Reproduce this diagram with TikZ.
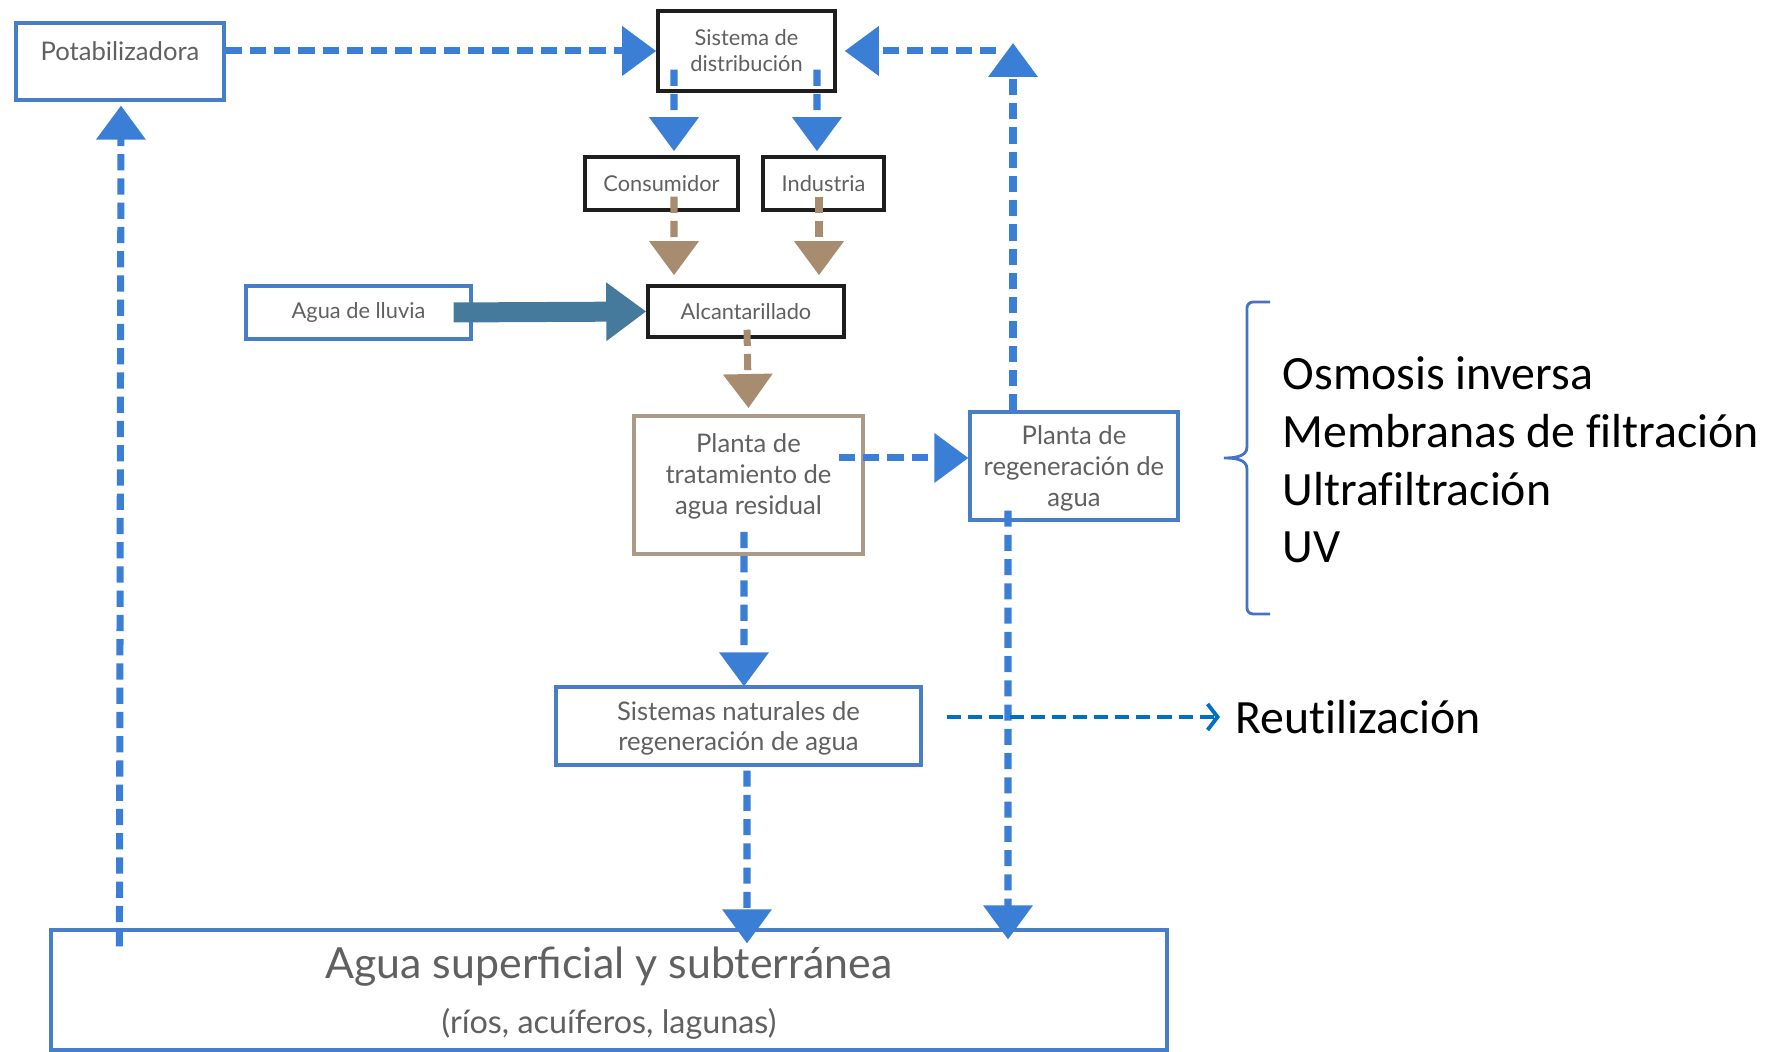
\documentclass[tikz,border=0pt]{standalone}
\usepackage{fontspec}
\setmainfont{Lato}
\newfontfamily\califont[Ligatures=NoCommon]{Carlito}
\usetikzlibrary{arrows.meta}
\definecolor{flowblue}{RGB}{58,126,214}
\definecolor{flowbrown}{RGB}{168,140,112}
\definecolor{rainblue}{RGB}{70,122,156}
\definecolor{reuseblue}{RGB}{0,112,192}
\definecolor{boxblue}{RGB}{72,125,200}
\definecolor{boxbrown}{RGB}{172,154,137}
\definecolor{boxblack}{RGB}{30,30,30}
\definecolor{textgrey}{RGB}{96,96,96}
\definecolor{bracecol}{RGB}{68,114,196}

\begin{document}
\begin{tikzpicture}[box/.style={rectangle,draw,inner sep=0pt,align=center,text=textgrey,font=\fontsize{6.2}{7.4}\selectfont},
    black_box/.style={box,draw=boxblack,line width=1pt},
    blue_box/.style={box,draw=boxblue,line width=0.9pt},
    brown_box/.style={box,draw=boxbrown,line width=1.1pt},
    big_text/.style={font=\fontsize{7.3}{8.7}\selectfont},
    blue_flow/.style={draw=flowblue,line width=2pt,dash pattern=on 4.6pt off 2.3pt,-{Triangle[length=0.34cm,width=0.48cm]}},
    brown_flow/.style={blue_flow,draw=flowbrown},
    rain_flow/.style={draw=rainblue,line width=0.2cm,-{Triangle[length=0.4cm,width=0.56cm]}},
    reuse_flow/.style={draw=reuseblue,line width=1.1pt,dash pattern=on 4pt off 2pt,-{Straight Barb[length=0.1cm,width=0.26cm]},shorten >=0.15cm},
    side_text/.style={inner sep=0pt,anchor=west,align=left,font=\califont\fontsize{13.6}{16.4}\selectfont}]

    \useasboundingbox (0,0) rectangle (17.74,-10.52);

    \node[blue_box,big_text,minimum width=2.08cm,minimum height=0.77cm,text depth=0.2cm] (pot) at (1.20,-0.615) {Potabilizadora};
    \node[black_box,minimum width=1.77cm,minimum height=0.80cm] (sis) at (7.465,-0.51) {Sistema de\\distribución};
    \node[black_box,minimum width=1.53cm,minimum height=0.53cm] (con) at (6.615,-1.835) {Consumidor};
    \node[black_box,minimum width=1.21cm,minimum height=0.53cm] (ind) at (8.235,-1.835) {Industria};
    \node[black_box,minimum width=1.96cm,minimum height=0.51cm] (alc) at (7.46,-3.115) {Alcantarillado};
    \node[blue_box,minimum width=2.25cm,minimum height=0.53cm] (llu) at (3.585,-3.125) {Agua de lluvia};
    \node[brown_box,big_text,minimum width=2.29cm,minimum height=1.38cm,text depth=0.22cm] (ptar) at (7.485,-4.85) {Planta de\\tratamiento de\\agua residual};
    \node[blue_box,big_text,minimum width=2.08cm,minimum height=1.08cm,text depth=0pt] (preg) at (10.74,-4.66) {Planta de\\regeneración de\\agua};
    \node[blue_box,big_text,minimum width=3.65cm,minimum height=0.78cm,text depth=-0.068cm] (snat) at (7.385,-7.26) {Sistemas naturales de\\regeneración de agua};
    \node[blue_box,minimum width=11.16cm,minimum height=1.20cm,text depth=-0.03cm,font=\fontsize{12.2}{15.5}\selectfont] (sup) at (6.09,-9.90) {Agua superficial y subterránea\\{\fontsize{9.2}{15.5}\selectfont (ríos, acuíferos, lagunas)}};

    \node[side_text] (tec) at (12.82,-4.60) {Osmosis inversa\\Membranas de filtración\\Ultrafiltración\\UV};
    \node[side_text] (reu) at (12.35,-7.17) {Reutilización};

    \coordinate (upr) at (10.13,-0.43);
    \coordinate (ret) at (9.96,-0.51);

    \draw[blue_flow] (pot.east |- sis.west) -- (sis.west);
    \draw[blue_flow] (ret) -- ([xshift=0.08cm]sis.east);
    \draw[blue_flow] ([xshift=-0.61cm]preg.north) -- (upr);
    \draw[blue_flow] ([xshift=-0.725cm,yshift=0.23cm]sis.south) -- ([xshift=0.125cm,yshift=0.04cm]con.north);
    \draw[blue_flow] ([xshift=0.705cm,yshift=0.23cm]sis.south) -- ([xshift=-0.065cm,yshift=0.04cm]ind.north);
    \draw[brown_flow] ([xshift=0.125cm,yshift=0.15cm]con.south) -- ([xshift=-0.72cm,yshift=0.09cm]alc.north);
    \draw[brown_flow] ([xshift=-0.045cm,yshift=0.15cm]ind.south) -- ([xshift=0.73cm,yshift=0.09cm]alc.north);
    \draw[rain_flow] ([xshift=-0.19cm]llu.east) -- (alc.west);
    \draw[brown_flow] ([xshift=0.01cm,yshift=0.09cm]alc.south) -- ([yshift=0.06cm]ptar.north);
    \draw[blue_flow] ([xshift=-0.26cm,yshift=0.27cm]ptar.east) -- ([yshift=0.08cm]preg.west);
    \draw[blue_flow] ([xshift=-0.045cm,yshift=0.24cm]ptar.south) -- ([xshift=0.055cm,yshift=-0.01cm]snat.north);
    \draw[blue_flow] ([xshift=0.085cm,yshift=-0.04cm]snat.south) -- ([xshift=1.38cm,yshift=-0.15cm]sup.north);
    \draw[blue_flow] ([xshift=-0.66cm,yshift=0.11cm]preg.south) -- ([xshift=3.99cm,yshift=-0.11cm]sup.north);
    \draw[blue_flow] ([xshift=0.70cm,yshift=-0.18cm]sup.north west) -- ([xshift=0.01cm,yshift=-0.04cm]pot.south);
    \draw[reuse_flow] ([xshift=0.24cm,yshift=0.09cm]snat.east) -- (reu.west);

    \draw[bracecol,line width=0.8pt] (12.70,-3.02) -- (12.53,-3.02) to[out=180,in=90] (12.47,-3.08) -- (12.47,-4.47) to[out=-90,in=0] (12.24,-4.58) to[out=0,in=90] (12.47,-4.69) -- (12.47,-6.08) to[out=-90,in=180] (12.53,-6.14) -- (12.70,-6.14);
\end{tikzpicture}
\end{document}
